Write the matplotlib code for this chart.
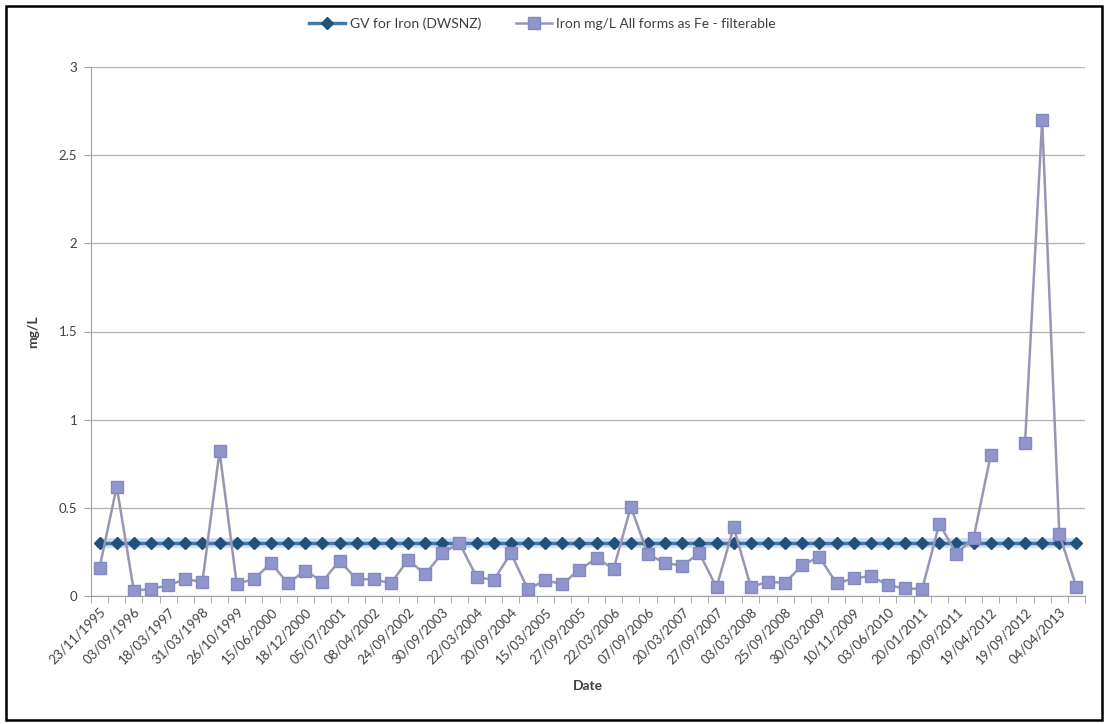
import numpy as np
import matplotlib.pyplot as plt
from matplotlib.patches import Rectangle

plt.rcParams['font.family'] = ['Lato', 'DejaVu Sans']

# Fechas (una etiqueta cada dos categorias, como en Excel)
tick_labels = ['23/11/1995', '03/09/1996', '18/03/1997', '31/03/1998', '26/10/1999',
               '15/06/2000', '18/12/2000', '05/07/2001', '08/04/2002', '24/09/2002',
               '30/09/2003', '22/03/2004', '20/09/2004', '15/03/2005', '27/09/2005',
               '22/03/2006', '07/09/2006', '20/03/2007', '27/09/2007', '03/03/2008',
               '25/09/2008', '30/03/2009', '10/11/2009', '03/06/2010', '20/01/2011',
               '20/09/2011', '19/04/2012', '19/09/2012', '04/04/2013']

# Hierro filtrable, mg/L (None = sin dato)
iron = [0.16, 0.62, 0.03, 0.04, 0.06, 0.095, 0.08, 0.82, 0.07, 0.095,
        0.186, 0.072, 0.144, 0.081, 0.20, 0.095, 0.095, 0.072, 0.205, 0.124,
        0.243, 0.30, 0.109, 0.09, 0.243, 0.037, 0.09, 0.067, 0.15, 0.213,
        0.155, 0.506, 0.236, 0.187, 0.172, 0.243, 0.049, 0.39, 0.052, 0.08,
        0.075, 0.175, 0.222, 0.071, 0.10, 0.113, 0.062, 0.043, 0.04, 0.41,
        0.24, 0.33, 0.80, None, 0.865, 2.70, 0.353, 0.049]

gv_value = 0.3
n = len(iron)
x = np.arange(n)
gv = np.full(n, gv_value)
iron_arr = np.array([np.nan if v is None else v for v in iron])

fig = plt.figure(figsize=(11.07, 7.24), dpi=100)
ax = fig.add_axes([91 / 1107, 1 - 596 / 724, (1085 - 91) / 1107, (596 - 67) / 724])

# Linea guia (con halo azul claro)
ax.plot(x, gv, color='#a6c8ec', lw=7, alpha=0.6, solid_capstyle='round', zorder=2)
ax.plot(x, gv, color='#4677ad', lw=2.5, marker='D', markersize=6,
        markerfacecolor='#24507c', markeredgecolor='#24507c', zorder=3,
        label='GV for Iron (DWSNZ)')

# Serie de hierro
ax.plot(x, iron_arr, color='#9797b4', lw=1.8, marker='s', markersize=8.5,
        markerfacecolor='#9095cc', markeredgecolor='#8489c0', zorder=4,
        label='Iron mg/L All forms as Fe - filterable')

ax.set_xlim(-0.5, n - 0.5)
ax.set_ylim(0, 3)
ax.set_yticks(np.arange(0, 3.01, 0.5))
ax.set_yticklabels(['0', '0.5', '1', '1.5', '2', '2.5', '3'])
ax.yaxis.grid(True, color='#b4b4b4', lw=1)
ax.set_axisbelow(True)

ax.set_xticks(x[::2])
ax.set_xticklabels(tick_labels, rotation=45, ha='right', rotation_mode='anchor')
ax.set_xticks(np.arange(-0.5, n, 1), minor=True)
ax.tick_params(axis='x', which='major', length=0, labelsize=9.5, colors='#404040', pad=7)
ax.tick_params(axis='x', which='minor', length=5, color='#a0a0a0', direction='out')
ax.tick_params(axis='y', length=5, color='#a0a0a0', labelsize=9.5, colors='#404040', pad=5)

for s in ['top', 'right']:
    ax.spines[s].set_visible(False)
ax.spines['left'].set_color('#a0a0a0')
ax.spines['bottom'].set_color('#a0a0a0')

ax.set_ylabel('mg/L', fontsize=10, fontweight='bold', color='#404040', labelpad=14)
ax.set_xlabel('Date', fontsize=10, fontweight='bold', color='#404040', labelpad=10)

fig.legend(loc='upper center', bbox_to_anchor=(0.49, 0.993), ncol=2, frameon=False,
           fontsize=10, handlelength=2.6, handletextpad=0.3, columnspacing=2.5,
           labelcolor='#404040')

# Marco exterior
fig.add_artist(Rectangle((6 / 1107, 4 / 724), 1096 / 1107, 714 / 724,
                         transform=fig.transFigure, fill=False, ec='black', lw=1.8))

fig.savefig('out.png', dpi=100)
